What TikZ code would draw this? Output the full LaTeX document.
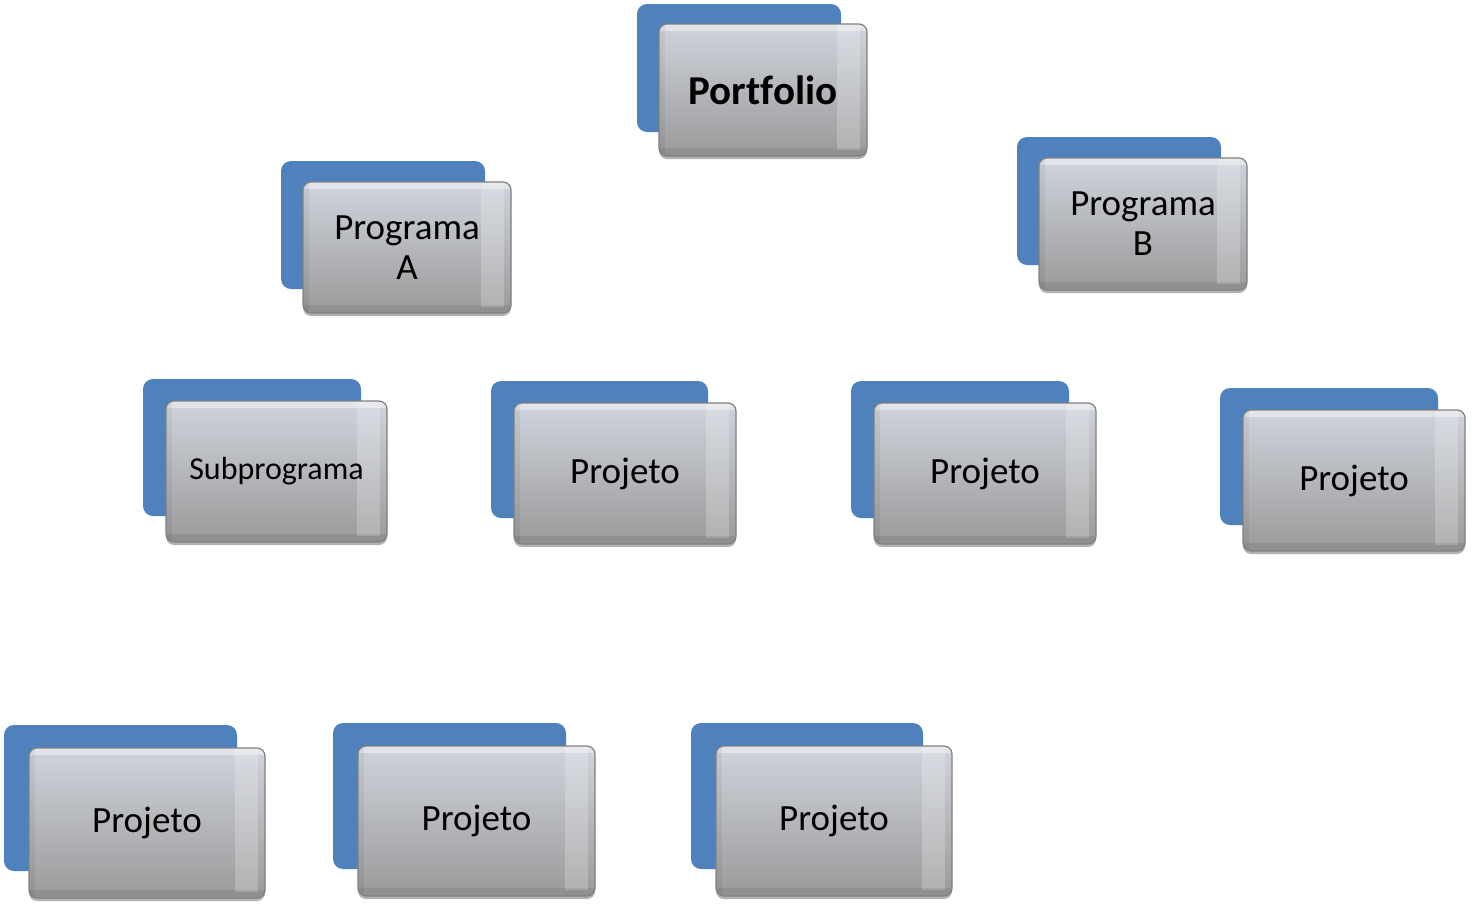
\documentclass[tikz,border=0pt]{standalone}
\usepackage{fontspec}
\setmainfont{Carlito}[RawFeature={-liga}]
\usetikzlibrary{shadows,calc}
\definecolor{blueback}{HTML}{4F81BD}
\definecolor{gtop}{HTML}{D0D4DC}
\definecolor{gmid}{HTML}{BFC2C8}
\definecolor{gbot}{HTML}{9A9A9A}
\definecolor{gedge}{HTML}{808080}
\tikzset{
  bluebox/.style={rectangle, rounded corners=10pt, fill=blueback, inner sep=0pt},
  graybox/.style={rectangle, rounded corners=8pt, draw=gedge, line width=1.2pt,
    top color=gtop, middle color=gmid, bottom color=gbot, inner sep=0pt, align=center,
    drop shadow={shadow xshift=0pt, shadow yshift=-3pt, opacity=0.3, fill=black},
    path picture={
      \fill[sharp corners, white, opacity=0.22] ($(path picture bounding box.north east)+(-30pt,0pt)$) rectangle ($(path picture bounding box.south east)+(-7pt,6pt)$);
      \fill[sharp corners, white, opacity=0.40] (path picture bounding box.north west) rectangle ($(path picture bounding box.north east)+(0,-7pt)$);
      \fill[sharp corners, black, opacity=0.07] (path picture bounding box.south west) rectangle ($(path picture bounding box.south east)+(0,8pt)$);
      \fill[sharp corners, black, opacity=0.05] (path picture bounding box.south west) rectangle ($(path picture bounding box.north west)+(6pt,0)$);
    }},
  fbig/.style={font=\fontsize{37}{40}\selectfont},
  fbold/.style={font=\fontsize{41}{44}\selectfont\bfseries},
  fsmall/.style={font=\fontsize{32}{36}\selectfont},
}
\begin{document}
\begin{tikzpicture}[x=1pt,y=-1pt]
\useasboundingbox (0,0) rectangle (1474,911);
% Portfolio
\node[bluebox, minimum width=204pt, minimum height=128pt] (portb) at (739,68) {};
\node[graybox, fbold, minimum width=208pt, minimum height=132pt] (port) at (763,90) {Portfolio};
% Programa A
\node[bluebox, minimum width=204pt, minimum height=128pt] (pab) at (383,225) {};
\node[graybox, fbig, minimum width=208pt, minimum height=131pt] (pa) at (407,247.5) {Programa\\A};
% Programa B
\node[bluebox, minimum width=204pt, minimum height=128pt] (pbb) at (1119,201) {};
\node[graybox, fbig, minimum width=208pt, minimum height=132pt] (pb) at (1143,224) {Programa\\B};
% Row 2
\node[bluebox, minimum width=218pt, minimum height=137pt] (subb) at (252,447.5) {};
\node[graybox, fsmall, minimum width=221pt, minimum height=141pt] (sub) at (276.5,471.5) {Subprograma};
\node[bluebox, minimum width=217pt, minimum height=137pt] (p2b) at (599.5,449.5) {};
\node[graybox, fbig, minimum width=222pt, minimum height=141pt] (p2) at (625,473.5) {Projeto};
\node[bluebox, minimum width=218pt, minimum height=137pt] (p3b) at (960,449.5) {};
\node[graybox, fbig, minimum width=222pt, minimum height=141pt] (p3) at (985,473.5) {Projeto};
\node[bluebox, minimum width=218pt, minimum height=137pt] (p4b) at (1329,456.5) {};
\node[graybox, fbig, minimum width=222pt, minimum height=141pt] (p4) at (1354,480.5) {Projeto};
% Row 3
\node[bluebox, minimum width=233pt, minimum height=146pt] (p5b) at (120.5,798) {};
\node[graybox, fbig, minimum width=236pt, minimum height=150pt] (p5) at (147,823) {Projeto};
\node[bluebox, minimum width=233pt, minimum height=146pt] (p6b) at (449.5,796) {};
\node[graybox, fbig, minimum width=237pt, minimum height=150pt] (p6) at (476.5,821) {Projeto};
\node[bluebox, minimum width=232pt, minimum height=146pt] (p7b) at (807,796) {};
\node[graybox, fbig, minimum width=236pt, minimum height=150pt] (p7) at (834,821) {Projeto};
\end{tikzpicture}
\end{document}
